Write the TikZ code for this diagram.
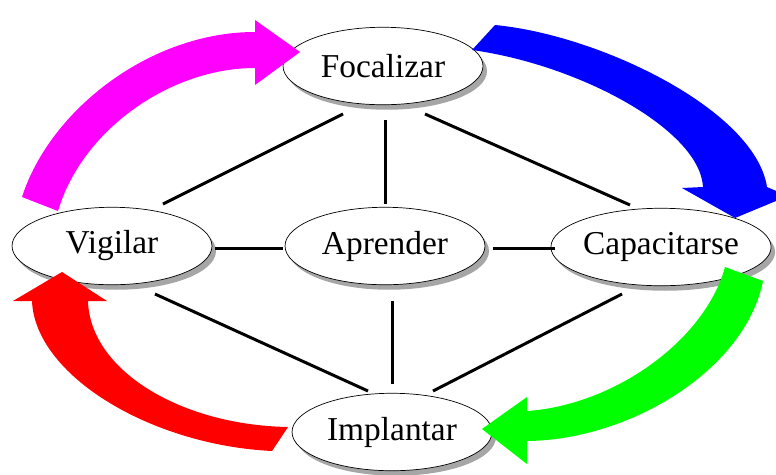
\documentclass[tikz,border=0pt]{standalone}
\usepackage{fontspec}
\setmainfont{Liberation Serif}
\usetikzlibrary{shapes,shadows,calc}
\definecolor{ciclomagenta}{rgb}{1.0, 0.0, 1.0}
\definecolor{cicloazul}{rgb}{0.0, 0.0, 1.0}
\definecolor{cicloverde}{rgb}{0.0, 1.0, 0.0}
\definecolor{ciclorojo}{rgb}{1.0, 0.0, 0.0}
\tikzset{etapa/.style={ellipse, draw, thin, fill=white, minimum width=4cm, minimum height=1.55cm, inner sep=0pt, font=\fontsize{19}{22}\selectfont, drop shadow={shadow xshift=0.08cm, shadow yshift=-0.1cm, fill=gray!70, opacity=1}}}
\tikzset{enlace/.style={line width=1.7pt}}

\begin{document}
\begin{tikzpicture}[x=0.02cm, y=-0.02cm]
\useasboundingbox (0,0) rectangle (776,474);
\node[etapa] (foc) at (383,66) {Focalizar};
\node[etapa] (vig) at (112,246) {Vigilar};
\node[etapa] (apr) at (385,246) {Aprender};
\node[etapa] (cap) at (661,247) {Capacitarse};
\node[etapa] (imp) at (392,432) {Implantar};
%\node at (150,5) {g};
\draw[enlace] ($(foc)+(-40,48)$)--($(vig)+(51,-42)$);
\draw[enlace] ($(foc)+(2,54)$)--($(apr)+(0,-42)$);
\draw[enlace] ($(foc)+(42,48)$)--($(cap)+(-31,-42)$);
\draw[enlace] ($(vig)+(103,2)$)--($(apr)+(-102,2)$);
\draw[enlace] ($(apr)+(108,2)$)--($(cap)+(-106,1)$);
\draw[enlace] ($(vig)+(43,48)$)--($(imp)+(-24,-41)$);
\draw[enlace] ($(apr)+(7,55)$)--($(imp)+(0,-48)$);
\draw[enlace] ($(cap)+(-39,47)$)--($(imp)+(41,-41)$);
% flechas del ciclo
\fill [ciclomagenta] (58,211) .. controls (82,130) and (170,68) .. (255,68) -- (255,85) -- (300,52) -- (255,20) -- (255,32) .. controls (150,32) and (50,110) .. (22,197) -- cycle;
\fill [cicloazul] (495,25) .. controls (600,35) and (755,110) .. (767,187) -- (788,196) -- (735,218) -- (682,188) -- (703,187) .. controls (700,130) and (580,65) .. (472,50) -- cycle;
\fill [cicloverde] (763,281) .. controls (745,370) and (630,440) .. (527,441) -- (527,464) -- (482,429) -- (527,397) -- (527,411) .. controls (615,405) and (705,340) .. (725,267) -- cycle;
\fill [ciclorojo] (272,451) .. controls (150,445) and (35,375) .. (32,301) -- (13,301) -- (62,272) -- (107,301) -- (88,301) .. controls (90,370) and (180,425) .. (288,427) -- cycle;
\end{tikzpicture}
\end{document}
